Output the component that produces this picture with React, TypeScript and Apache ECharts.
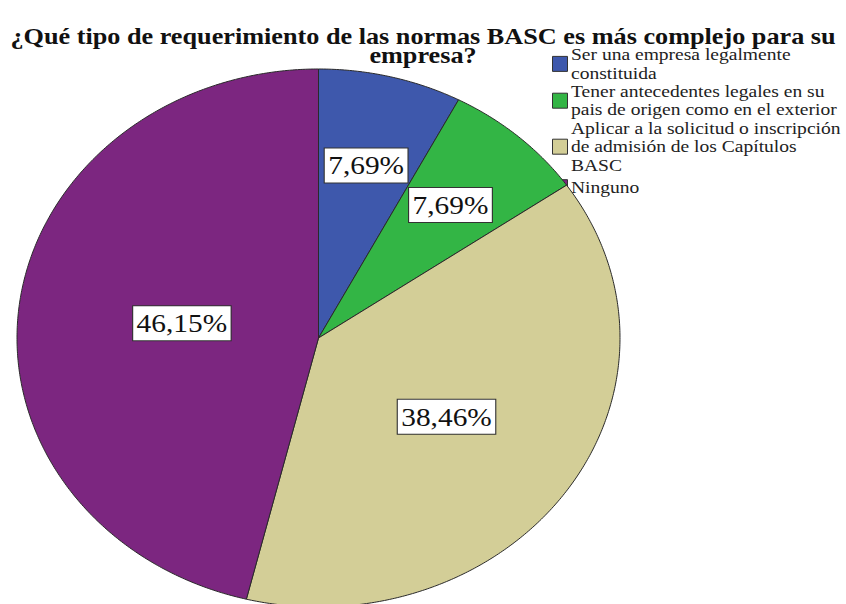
import React, { useEffect, useRef } from "react";
import * as echarts from "echarts";

const titleText =
  "¿Qué tipo de requerimiento de las normas BASC es más complejo para su\nempresa?";
const categories = [
  "Ser una empresa legalmente\nconstituida",
  "Tener antecedentes legales en su\npais de origen como en el exterior",
  "Aplicar a la solicitud o inscripción\nde admisión de los Capítulos\nBASC",
  "Ninguno",
];
const values = [7.69, 7.69, 38.46, 46.15];
const valueLabels = ["7,69%", "7,69%", "38,46%", "46,15%"];
const colors = ["#3E58AC", "#33B545", "#D3CE97", "#7C2680"];

const CX = 318.5;
const CY = 338;
const RX = 301.5;
const RY = 269;
const STRETCH = 1.13;
const FAM = "\"Liberation Serif\", \"Times New Roman\", serif";

export default function App() {
  const ref = useRef<HTMLDivElement>(null);

  useEffect(() => {
    if (!ref.current) return;
    const chart = echarts.init(ref.current, undefined, { renderer: "svg" });
    const total = values.reduce((a, b) => a + b, 0);

    const renderItem = (params: any, api: any) => {
      const i = params.dataIndex;
      let before = 0;
      for (let k = 0; k < i; k++) before += values[k];
      const v = api.value(0);
      const a0 = (before / total) * Math.PI * 2;
      const a1 = ((before + v) / total) * Math.PI * 2;
      const pts: number[][] = [[CX, CY]];
      const steps = Math.max(4, Math.ceil(((a1 - a0) * 180) / Math.PI / 0.5));
      for (let s = 0; s <= steps; s++) {
        const t = a0 + ((a1 - a0) * s) / steps;
        pts.push([CX + RX * Math.sin(t), CY - RY * Math.cos(t)]);
      }
      const theta = a1 - a0;
      const mid = (a0 + a1) / 2;
      const f = (4 * Math.sin(theta / 2)) / (3 * theta);
      const lx = CX + RX * f * Math.sin(mid);
      const ly = CY - RY * f * Math.cos(mid);
      return {
        type: "group",
        children: [
          {
            type: "polygon",
            shape: { points: pts },
            style: { fill: colors[i], stroke: "#2a2a2a", lineWidth: 1 },
          },
          {
            type: "text",
            x: lx,
            y: ly,
            scaleX: STRETCH,
            z2: 20,
            style: {
              text: valueLabels[i],
              font: "normal 26px " + FAM,
              lineHeight: 30,
              fill: "#111",
              align: "center",
              verticalAlign: "middle",
              backgroundColor: "#ffffff",
              borderColor: "#333",
              borderWidth: 1,
              padding: [2, 3, 2, 3],
            },
          },
        ],
      };
    };

    const lineH = 18.4;
    let yCursor = 45.5;
    const legendEls: any[] = [];
    categories.forEach((c, i) => {
      const lines = c.split("\n").length;
      const h = Math.max(lines, 1.4) * lineH;
      const cy = yCursor + h / 2;
      legendEls.push({
        type: "rect",
        x: 552.5,
        y: cy - 7.5,
        shape: { x: 0, y: 0, width: 15, height: 15 },
        style: { fill: colors[i], stroke: "#333", lineWidth: 1 },
      });
      legendEls.push({
        type: "text",
        x: 571,
        y: cy,
        scaleX: 1.15,
        style: {
          text: c,
          font: "normal 17px " + FAM,
          lineHeight: lineH,
          fill: "#222",
          align: "left",
          verticalAlign: "middle",
        },
      });
      yCursor += h;
    });

    chart.setOption({
      animation: false,
      backgroundColor: "#ffffff",
      series: [
        {
          type: "custom",
          name: "BASC",
          coordinateSystem: "none",
          renderItem,
          data: values.map((v, i) => ({ value: [v], name: categories[i] })),
        },
      ],
      graphic: [
        {
          type: "text",
          x: 423,
          y: 45.5,
          scaleX: 1.14,
          style: {
            text: titleText,
            font: "bold 23px " + FAM,
            lineHeight: 19,
            fill: "#111",
            align: "center",
            verticalAlign: "middle",
          },
        },
        ...legendEls,
      ],
    });
    return () => chart.dispose();
  }, []);

  return (
    <div
      ref={ref}
      style={{ position: "fixed", left: 0, top: 0, width: 846, height: 604, background: "#fff" }}
    />
  );
}
